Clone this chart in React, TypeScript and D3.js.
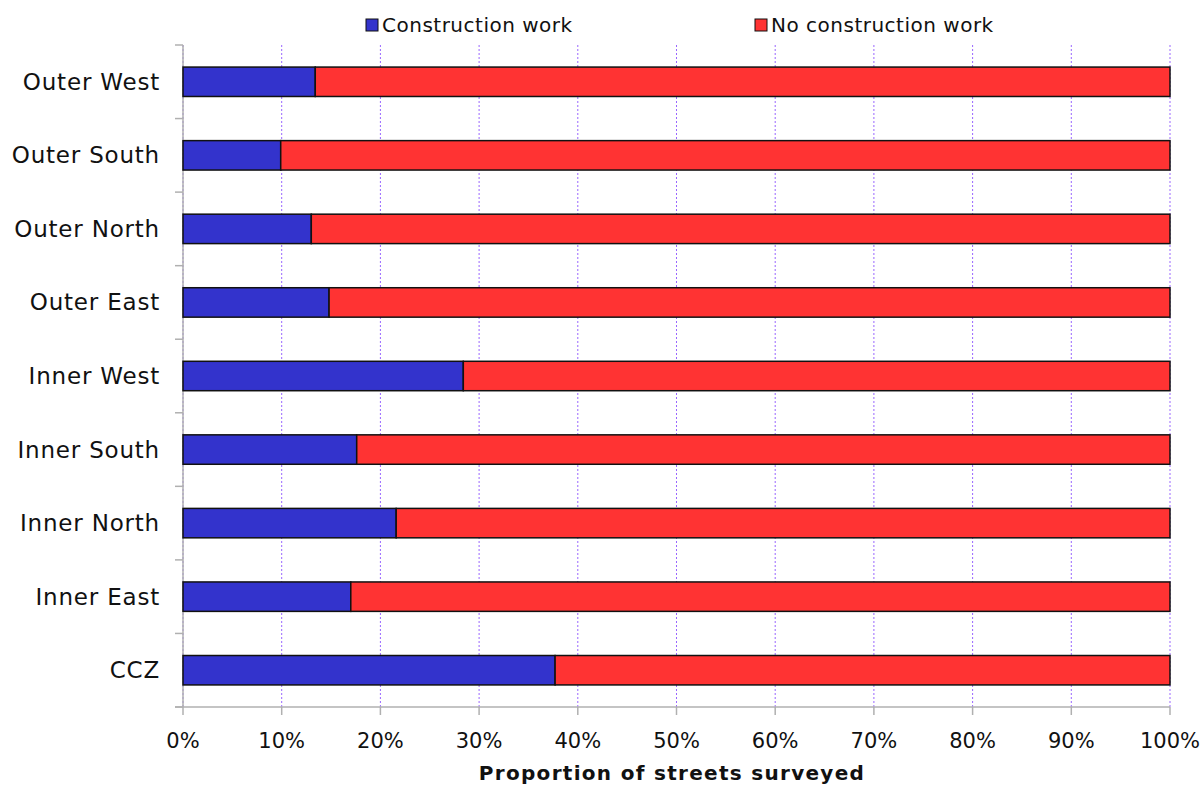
import React from "react";
import * as d3 from "d3";

const categories = ["Outer West", "Outer South", "Outer North", "Outer East", "Inner West", "Inner South", "Inner North", "Inner East", "CCZ"];
const construction = [13.4, 9.9, 13.0, 14.8, 28.4, 17.6, 21.6, 17.0, 37.7];
const noConstruction = construction.map((v) => 100 - v);
const ticks = [0, 10, 20, 30, 40, 50, 60, 70, 80, 90, 100];
const seriesNames = ["Construction work", "No construction work"];
const colors = ["#3333cc", "#ff3333"];

export default function App() {
  const W = 1201, H = 785;
  const left = 183, right = 1170, top = 45, bottom = 707;
  const x = d3.scaleLinear().domain([0, 100]).range([left, right]);
  const y = d3.scaleBand().domain(categories).range([top, bottom]).paddingInner(0.6).paddingOuter(0.3);
  const yOuter = d3.scaleBand().domain(categories).range([top, bottom]);
  const font = "'DejaVu Sans', Verdana, sans-serif";
  return (
    <svg width={W} height={H} style={{ position: "absolute", left: 0, top: 0 }} fontFamily={font}>
      <rect width={W} height={H} fill="#fff" />
      {ticks.map((t) => (
        <line key={"g" + t} x1={x(t)} x2={x(t)} y1={top} y2={bottom} stroke="#9966ff" strokeWidth={1} strokeDasharray="2,2" />
      ))}
      <line x1={left} x2={left} y1={top} y2={bottom} stroke="#b0b0b0" strokeWidth={1.5} />
      {categories.map((c, i) => (
        <line key={"yt" + i} x1={left - 8} x2={left} y1={yOuter(c)!} y2={yOuter(c)!} stroke="#b0b0b0" strokeWidth={1.5} />
      ))}
      <line x1={left - 8} x2={left} y1={bottom} y2={bottom} stroke="#b0b0b0" strokeWidth={1.5} />
      <line x1={left - 8} x2={right} y1={bottom} y2={bottom} stroke="#b0b0b0" strokeWidth={1.5} />
      {ticks.map((t) => (
        <line key={"xt" + t} x1={x(t)} x2={x(t)} y1={bottom} y2={bottom + 8} stroke="#b0b0b0" strokeWidth={1.5} />
      ))}
      {categories.map((c, i) => {
        const yy = y(c)!;
        const h = y.bandwidth();
        return (
          <g key={c}>
            <rect x={x(0)} y={yy} width={x(construction[i]) - x(0)} height={h} fill={colors[0]} stroke="#111" strokeWidth={1.5} />
            <rect x={x(construction[i])} y={yy} width={x(construction[i] + noConstruction[i]) - x(construction[i])} height={h} fill={colors[1]} stroke="#111" strokeWidth={1.5} />
            <text x={left - 23} y={yy + h / 2} textAnchor="end" dominantBaseline="central" fontSize={23} letterSpacing={0.8} fill="#111">{c}</text>
          </g>
        );
      })}
      {ticks.map((t) => (
        <text key={"xl" + t} x={x(t)} y={bottom + 41} textAnchor="middle" fontSize={21} fill="#111">{t + "%"}</text>
      ))}
      <text x={672} y={780} textAnchor="middle" fontSize={20} fontWeight="bold" letterSpacing={1.3} fill="#111">Proportion of streets surveyed</text>
      {[366, 755].map((lx, i) => (
        <g key={"lg" + i}>
          <rect x={lx} y={19} width={12} height={12} fill={colors[i]} stroke="#111" strokeWidth={1} />
          <text x={lx + 16} y={25} dominantBaseline="central" fontSize={20} letterSpacing={0.5} fill="#111">{seriesNames[i]}</text>
        </g>
      ))}
    </svg>
  );
}
